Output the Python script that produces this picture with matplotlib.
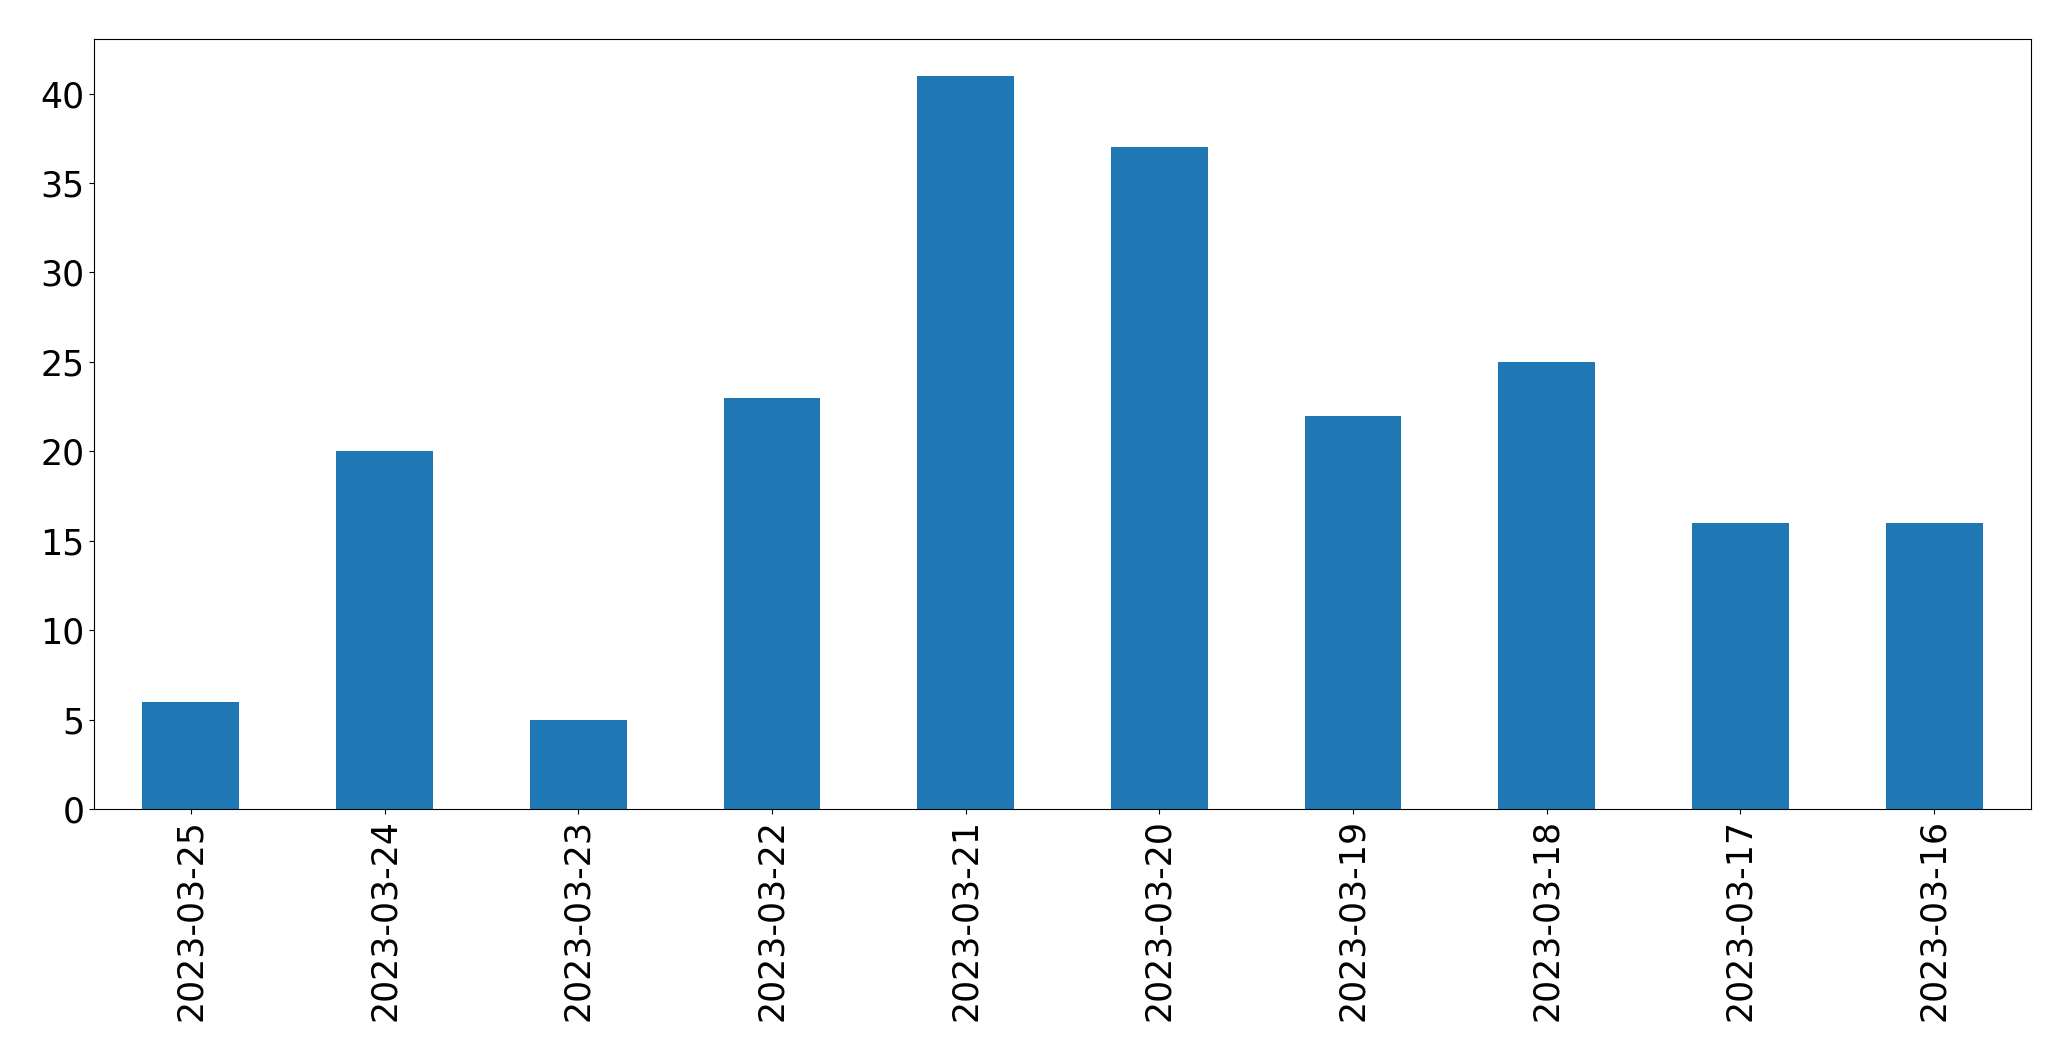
import matplotlib
matplotlib.use("Agg")
import matplotlib.pyplot as plt

dates = ["2023-03-25", "2023-03-24", "2023-03-23", "2023-03-22", "2023-03-21",
         "2023-03-20", "2023-03-19", "2023-03-18", "2023-03-17", "2023-03-16"]
counts = [6, 20, 5, 23, 41, 37, 22, 25, 16, 16]

fig = plt.figure(figsize=(20.71, 10.61), dpi=100)
ax = fig.add_axes([94/2071, 1 - 809/1061, (2031-94)/2071, (809-39)/1061])
x = list(range(len(dates)))
ax.bar(x, counts, width=0.5, color="#1f77b4")
ax.set_xticks(x)
ax.set_xticklabels(dates, rotation=90)
ax.set_xlim(-0.5, len(dates) - 0.5)
ax.set_ylim(0, 43.05)
ax.tick_params(axis="both", labelsize=25)
fig.savefig("out.png", dpi=100)
